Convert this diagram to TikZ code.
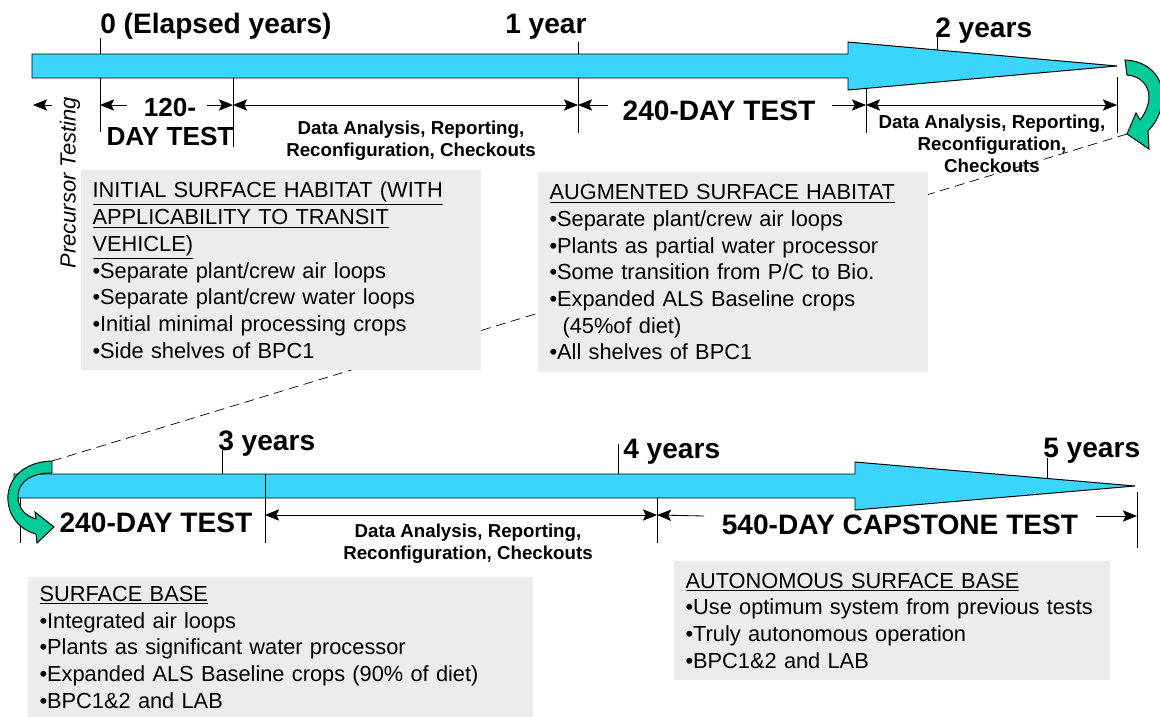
\documentclass[tikz,border=0pt]{standalone}
\usepackage{fontspec}
\setmainfont{Liberation Sans}
\usetikzlibrary{arrows.meta, positioning}
\definecolor{shaftcyan}{RGB}{59,213,252}
\definecolor{turngreen}{RGB}{0,204,153}
\definecolor{boxgray}{RGB}{236,236,236}

\begin{document}
\begin{tikzpicture}[x=0.025cm, y=-0.025cm, >={Stealth[length=10pt,width=8pt,inset=2pt]},
  timeline/.style={draw, line width=0.7pt, fill=shaftcyan},
  turn/.style={draw, line width=0.7pt, fill=turngreen},
  tick/.style={line width=0.6pt},
  span/.style={line width=0.6pt},
  year/.style={anchor=base west, inner sep=0pt, font=\fontsize{20}{22}\selectfont\bfseries},
  phase/.style={align=center, inner sep=0pt, font=\fontsize{20}{21}\selectfont\bfseries},
  gap/.style={align=center, inner sep=0pt, font=\fontsize{13.3}{15.8}\selectfont\bfseries},
  habitat/.style={fill=boxgray, anchor=north west, inner xsep=8pt, inner ysep=0pt,
    align=left, font=\fontsize{15.5}{19}\selectfont}]

\useasboundingbox (0,0) rectangle (1160,717);

% link from the end of year 2 to the start of year 3
\coordinate (rtip) at (1127,134);
\coordinate (ltop) at (52,461);
\draw[dashed, dash pattern=on 7pt off 4pt, line width=0.5pt] (rtip) -- (ltop);

% habitat boxes
\node[habitat, text width=10cm-16pt, minimum height=5cm] (initial) at (81,170)
  {\underline{INITIAL SURFACE HABITAT (WITH}\\
   \underline{APPLICABILITY TO TRANSIT}\\
   \underline{VEHICLE)}\\
   •Separate plant/crew air loops\\
   •Separate plant/crew water loops\\
   •Initial minimal processing crops\\
   •Side shelves of BPC1};
\node[habitat, text width=9.75cm-16pt, minimum height=5cm] (augmented) at (538,172)
  {\underline{AUGMENTED SURFACE HABITAT}\\
   •Separate plant/crew air loops\\
   •Plants as partial water processor\\
   •Some transition from P/C to Bio.\\
   •Expanded ALS Baseline crops\\
   \hspace*{0.6em}(45\%of diet)\\
   •All shelves of BPC1};
\node[habitat, text width=12.625cm-16pt, minimum height=3.5cm] (surface) at (28,577)
  {\underline{SURFACE BASE}\\
   •Integrated air loops\\
   •Plants as significant water processor\\
   •Expanded ALS Baseline crops (90\% of diet)\\
   •BPC1\&2 and LAB};
\node[habitat, text width=10.9cm-16pt, minimum height=2.975cm] (autonomous) at (674,561)
  {\underline{AUTONOMOUS SURFACE BASE}\\
   •Use optimum system from previous tests\\
   •Truly autonomous operation\\
   •BPC1\&2 and LAB};

% first two years
\draw[timeline] (32,54) -- (848,54) -- (848,42) -- (1117,66) -- (848,90) -- (848,78) -- (32,78) -- cycle;
\foreach \x/\a/\b in {100/38/54, 578/42/54, 937/37/50,
                      100/78/132, 233/78/147, 578/78/133, 866/88/133, 1117/77/133}
  \draw[tick] (\x,\a) -- (\x,\b);

\node[year] (y0) at (100,33) {0 (Elapsed years)};
\node[year] (y1) at (505,33) {1 year};
\node[year] (y2) at (935,37) {2 years};

\coordinate (p0) at (33,105);  \coordinate (p1) at (52,105);
\coordinate (a0) at (100,105); \coordinate (a1) at (127,105);
\coordinate (a2) at (207,105); \coordinate (a3) at (233,105);
\coordinate (b0) at (578,105); \coordinate (b1) at (608,105);
\coordinate (b2) at (832,105); \coordinate (b3) at (866,105);
\coordinate (c0) at (1117,105);
\draw[span, ->] (p1) -- (p0);
\draw[span, ->] (a1) -- (a0);
\draw[span, ->] (a2) -- (a3);
\draw[span, <->] (a3) -- (b0);
\draw[span, ->] (b1) -- (b0);
\draw[span, ->] (b2) -- (b3);
\draw[span, <->] (b3) -- (c0);

\node[phase, font=\fontsize{18.6}{21}\selectfont\bfseries] (t120) at (170,122) {120-\\DAY TEST};
\node[gap] (g1) at (411,141) {Data Analysis, Reporting,\\Reconfiguration, Checkouts};
\node[phase] (t240a) at (719,111) {240-DAY TEST};
\node[gap] (g2) at (992,144) {Data Analysis, Reporting,\\Reconfiguration,\\Checkouts};
\node[rotate=90, inner sep=0pt, font=\fontsize{15.6}{17}\selectfont\itshape] (pre) at (70,183) {Precursor Testing};

% years three to five
\draw[timeline] (14,474) -- (855,474) -- (855,462) -- (1135,486) -- (855,510) -- (855,498) -- (14,498) -- cycle;
\foreach \x/\a/\b in {222/450/474, 618/444/474, 1047/458/478,
                      20/498/543, 265/474/543, 657/498/543, 1137/492/548}
  \draw[tick] (\x,\a) -- (\x,\b);

\node[year] (y3) at (218,450) {3 years};
\node[year] (y4) at (623,458) {4 years};
\node[year] (y5) at (1043,457) {5 years};

\coordinate (d0) at (265,515);  \coordinate (d1) at (657,515);
\coordinate (e0) at (704,516);  \coordinate (e1) at (1096,516);
\coordinate (e2) at (1137,516);
\draw[span, <->] (d0) -- (d1);
\draw[span, ->] (e0) -- (d1);
\draw[span, ->] (e1) -- (e2);

\node[phase] (t240b) at (156,523) {240-DAY TEST};
\node[gap] (g3) at (468,544) {Data Analysis, Reporting,\\Reconfiguration, Checkouts};
\node[phase] (t540) at (900,525) {540-DAY CAPSTONE TEST};

% turn-around arrows
\draw[turn] (1125,60) .. controls (1152,61) and (1166,82) .. (1162,103)
  .. controls (1160,116) and (1154,125) .. (1148,131) -- (1149,149) -- (rtip)
  -- (1136,113) -- (1140,120) .. controls (1146,112) and (1149,104) .. (1149,97)
  .. controls (1149,86) and (1141,76) .. (1127,75) -- cycle;
\draw[turn] (ltop) .. controls (15,462) and (1,490) .. (11,513)
  .. controls (16,524) and (25,531) .. (36,534) -- (37,543) -- (54,527)
  -- (35,512) -- (36,519) .. controls (25,516) and (17,507) .. (18,495)
  .. controls (19,481) and (32,473) .. (52,473) -- cycle;
\end{tikzpicture}
\end{document}
